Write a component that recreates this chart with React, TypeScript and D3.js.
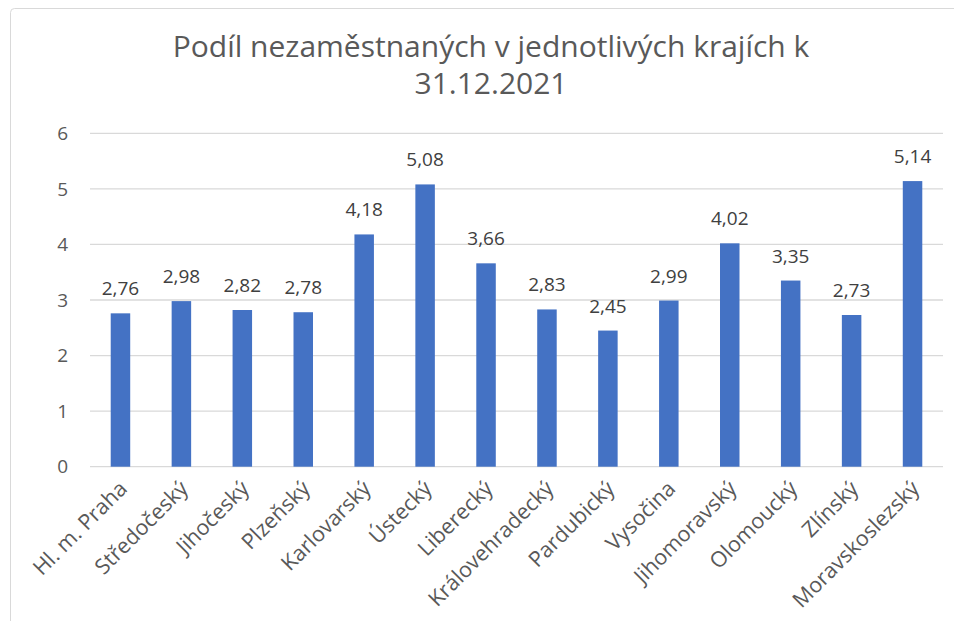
import React, { useEffect, useRef } from "react";
import * as d3 from "d3";

// Podíl nezaměstnaných podle krajů k 31.12.2021
const kraje = [
  "Hl. m. Praha",
  "Středočeský",
  "Jihočeský",
  "Plzeňský",
  "Karlovarský",
  "Ústecký",
  "Liberecký",
  "Královehradecký",
  "Pardubický",
  "Vysočina",
  "Jihomoravský",
  "Olomoucký",
  "Zlínský",
  "Moravskoslezský",
];
const podil = [2.76, 2.98, 2.82, 2.78, 4.18, 5.08, 3.66, 2.83, 2.45, 2.99, 4.02, 3.35, 2.73, 5.14];
const yTicks = [0, 1, 2, 3, 4, 5, 6];
const titleLines = ["Podíl nezaměstnaných v jednotlivých krajích k", "31.12.2021"];

const FONT = "'Open Sans', sans-serif";

const App = () => {
  const ref = useRef<HTMLDivElement>(null);

  useEffect(() => {
    d3.select(ref.current).selectAll("*").remove();

    const width = 962;
    const height = 629;

    const svg = d3
      .select(ref.current)
      .append("svg")
      .attr("width", width)
      .attr("height", height)
      .style("display", "block");

    // chart frame (runs off the right and bottom edge)
    svg
      .append("rect")
      .attr("x", 10.5)
      .attr("y", 8.5)
      .attr("width", 975)
      .attr("height", 640)
      .attr("rx", 4)
      .attr("fill", "#fff")
      .attr("stroke", "#d9d9d9");

    const x = d3
      .scaleBand()
      .domain(kraje)
      .range([90, 943])
      .paddingInner(0.68)
      .paddingOuter(0.34);

    const y = d3.scaleLinear().domain([0, 6]).range([466.7, 133.3]);

    // title
    svg
      .append("text")
      .attr("x", 491)
      .attr("y", 57)
      .attr("text-anchor", "middle")
      .style("font-family", FONT)
      .style("font-size", "30px")
      .attr("fill", "#595959")
      .selectAll("tspan")
      .data(titleLines)
      .enter()
      .append("tspan")
      .attr("x", 491)
      .attr("dy", (d, i) => (i === 0 ? 0 : 37))
      .text((d) => d);

    // gridlines
    svg
      .append("g")
      .selectAll("line")
      .data(yTicks)
      .enter()
      .append("line")
      .attr("x1", 90)
      .attr("x2", 943)
      .attr("y1", (d) => y(d))
      .attr("y2", (d) => y(d))
      .attr("stroke", "#d9d9d9")
      .attr("stroke-width", 1.3);

    // y axis labels
    svg
      .append("g")
      .selectAll("text")
      .data(yTicks)
      .enter()
      .append("text")
      .attr("x", 68)
      .attr("y", (d) => y(d))
      .attr("dy", "0.35em")
      .attr("text-anchor", "end")
      .style("font-family", FONT)
      .style("font-size", "19px")
      .attr("fill", "#595959")
      .text((d) => d);

    // bars
    svg
      .append("g")
      .selectAll("rect")
      .data(podil)
      .enter()
      .append("rect")
      .attr("x", (d, i) => x(kraje[i]))
      .attr("y", (d) => y(d))
      .attr("width", x.bandwidth())
      .attr("height", (d) => y(0) - y(d))
      .attr("fill", "#4472c4");

    // data labels
    svg
      .append("g")
      .selectAll("text")
      .data(podil)
      .enter()
      .append("text")
      .attr("x", (d, i) => x(kraje[i]) + x.bandwidth() / 2)
      .attr("y", (d) => y(d) - 18)
      .attr("text-anchor", "middle")
      .style("font-family", FONT)
      .style("font-size", "19px")
      .attr("fill", "#404040")
      .text((d) => d.toFixed(2).replace(".", ","));

    // category labels, rotated
    svg
      .append("g")
      .selectAll("text")
      .data(kraje)
      .enter()
      .append("text")
      .attr("text-anchor", "end")
      .attr(
        "transform",
        (d) => `translate(${x(d) + x.bandwidth() / 2 + 8}, 490) rotate(-45)`
      )
      .style("font-family", FONT)
      .style("font-size", "21.5px")
      .attr("fill", "#595959")
      .text((d) => d);
  }, []);

  return <div ref={ref} style={{ margin: -8 }}></div>;
};

export default App;
